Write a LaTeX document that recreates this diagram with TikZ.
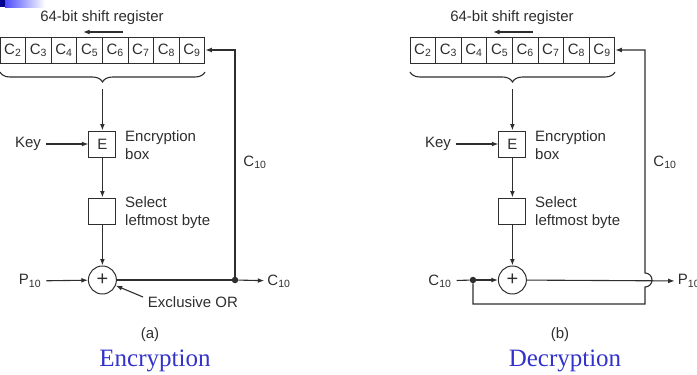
\documentclass[tikz,border=0pt]{standalone}
\usepackage{fontspec}
\setmainfont{Liberation Sans}
\newfontfamily\serifcap{Liberation Serif}
\usepackage{xcolor}
\usepackage{tikz}
\usetikzlibrary{arrows.meta,positioning,calc,decorations.pathreplacing}
\definecolor{ink}{HTML}{2E2E2E}
\definecolor{slideblue}{HTML}{3333CC}
\tikzset{
  regcell/.style={draw=ink,line width=1pt,text=ink,minimum width=25.6pt,minimum height=26pt,
    inner sep=0pt,font=\fontsize{15}{18}\selectfont},
  opbox/.style={draw=ink,line width=1pt,text=ink,minimum width=27pt,minimum height=26pt,
    inner sep=0pt,font=\fontsize{15}{18}\selectfont},
  xorcircle/.style={draw=ink,line width=1pt,text=ink,circle,minimum size=28pt,inner sep=0pt,
    font=\fontsize{20}{20}\selectfont},
  textlabel/.style={text=ink,font=\fontsize{15}{18}\selectfont,inner sep=0pt},
  sidelabel/.style={textlabel,align=left,anchor=west},
  flowarrow/.style={-{Latex[length=6.5pt,width=4.8pt]},draw=ink,line width=1.1pt},
  flowline/.style={draw=ink,line width=1.1pt},
  joint/.style={circle,fill=ink,inner sep=0pt,minimum size=6.5pt},
  captiontext/.style={text=slideblue,font=\serifcap\fontsize{25}{30}\selectfont}
}

\begin{document}
\begin{tikzpicture}[x=1pt,y=-1pt]
  \useasboundingbox (0,0) rectangle (697,375);
  \fill[blue!55!black] (0,0) rectangle (5,7);
  \shade[left color=blue!70,right color=white] (5,0) rectangle (45,7);

  % (a) encryption
  \begin{scope}
    \node[textlabel] (titleA) at (102,18) {64-bit shift register};
    \coordinate (shiftA) at (123,32);
    \coordinate (shiftAend) at (83,32);
    \draw[flowarrow] (shiftA) -- (shiftAend);
    \foreach \i in {2,...,9}
      \node[regcell] (regA\i) at ({12.8+25.6*(\i-2)},50) {C\textsubscript{\i}};
    \coordinate (braceAl) at (0,72);
    \coordinate (braceAr) at (205,72);
    \draw[flowline,decorate,decoration={brace,mirror,amplitude=10pt}] (braceAl) -- (braceAr);
    \coordinate (tipA) at (102.4,89);

    \node[opbox] (eboxA) at (102.4,144) {E};
    \node[textlabel] (keyA) at (28,144) {Key};
    \node[sidelabel] at (125,145) {Encryption\\box};
    \node[opbox] (selA) at (102.4,211) {};
    \node[sidelabel] at (125,213) {Select\\leftmost byte};
    \node[xorcircle] (xorA) at (102.4,280) {+};
    \node[textlabel] (pinA) at (30,281) {P\textsubscript{10}};
    \node[joint] (jointA) at (235,280) {};
    \node[textlabel] (coutA) at (279,281) {C\textsubscript{10}};
    \node[textlabel] (fbA) at (255,162) {C\textsubscript{10}};
    \node[textlabel] (xorlabelA) at (193,302) {Exclusive OR};
    \coordinate (xortailA) at (143,297);
    \node[textlabel] (capA) at (150,335) {(a)};
    \node[captiontext] (nameA) at (155,361) {Encryption};

    \draw[flowarrow] (tipA) -- (eboxA);
    \draw[flowarrow,shorten <=5pt] (keyA) -- (eboxA);
    \draw[flowarrow] (eboxA) -- (selA);
    \draw[flowarrow] (selA) -- (xorA);
    \draw[flowarrow,shorten <=5pt] (pinA) -- (xorA);
    \draw[flowline] (xorA) -- (jointA);
    \draw[flowarrow,shorten >=3pt] (jointA) -- (coutA);
    \draw[flowarrow] (jointA) |- (regA9);
    \draw[flowarrow] (xortailA) -- (xorA);
  \end{scope}

  % (b) decryption
  \begin{scope}[xshift=410pt]
    \node[textlabel] (titleB) at (102,18) {64-bit shift register};
    \coordinate (shiftB) at (123,32);
    \coordinate (shiftBend) at (83,32);
    \draw[flowarrow] (shiftB) -- (shiftBend);
    \foreach \i in {2,...,9}
      \node[regcell] (regB\i) at ({12.8+25.6*(\i-2)},50) {C\textsubscript{\i}};
    \coordinate (braceBl) at (0,72);
    \coordinate (braceBr) at (205,72);
    \draw[flowline,decorate,decoration={brace,mirror,amplitude=10pt}] (braceBl) -- (braceBr);
    \coordinate (tipB) at (102.4,89);

    \node[opbox] (eboxB) at (102.4,144) {E};
    \node[textlabel] (keyB) at (28,144) {Key};
    \node[sidelabel] at (125,145) {Encryption\\box};
    \node[opbox] (selB) at (102.4,211) {};
    \node[sidelabel] at (125,213) {Select\\leftmost byte};
    \node[xorcircle] (xorB) at (102.4,280) {+};
    \node[textlabel] (cinB) at (30,281) {C\textsubscript{10}};
    \node[joint] (jointB) at (63,280) {};
    \node[textlabel] (poutB) at (279,281) {P\textsubscript{10}};
    \node[textlabel] (fbB) at (255,162) {C\textsubscript{10}};
    \coordinate (loopB) at (63,304);
    \coordinate (loopBr) at (235,304);
    \coordinate (hopB) at (235,287);
    \node[textlabel] (capB) at (150,335) {(b)};
    \node[captiontext] (nameB) at (155,361) {Decryption};

    \draw[flowarrow] (tipB) -- (eboxB);
    \draw[flowarrow,shorten <=5pt] (keyB) -- (eboxB);
    \draw[flowarrow] (eboxB) -- (selB);
    \draw[flowarrow] (selB) -- (xorB);
    \draw[flowline,shorten <=5pt] (cinB) -- (jointB);
    \draw[flowarrow] (jointB) -- (xorB);
    \draw[flowarrow,shorten >=3pt] (xorB) -- (poutB);
    \draw[flowarrow] (jointB) -- (loopB) -- (loopBr) -- (hopB)
      arc[start angle=90,end angle=-90,radius=7] |- (regB9);
  \end{scope}
\end{tikzpicture}
\end{document}
